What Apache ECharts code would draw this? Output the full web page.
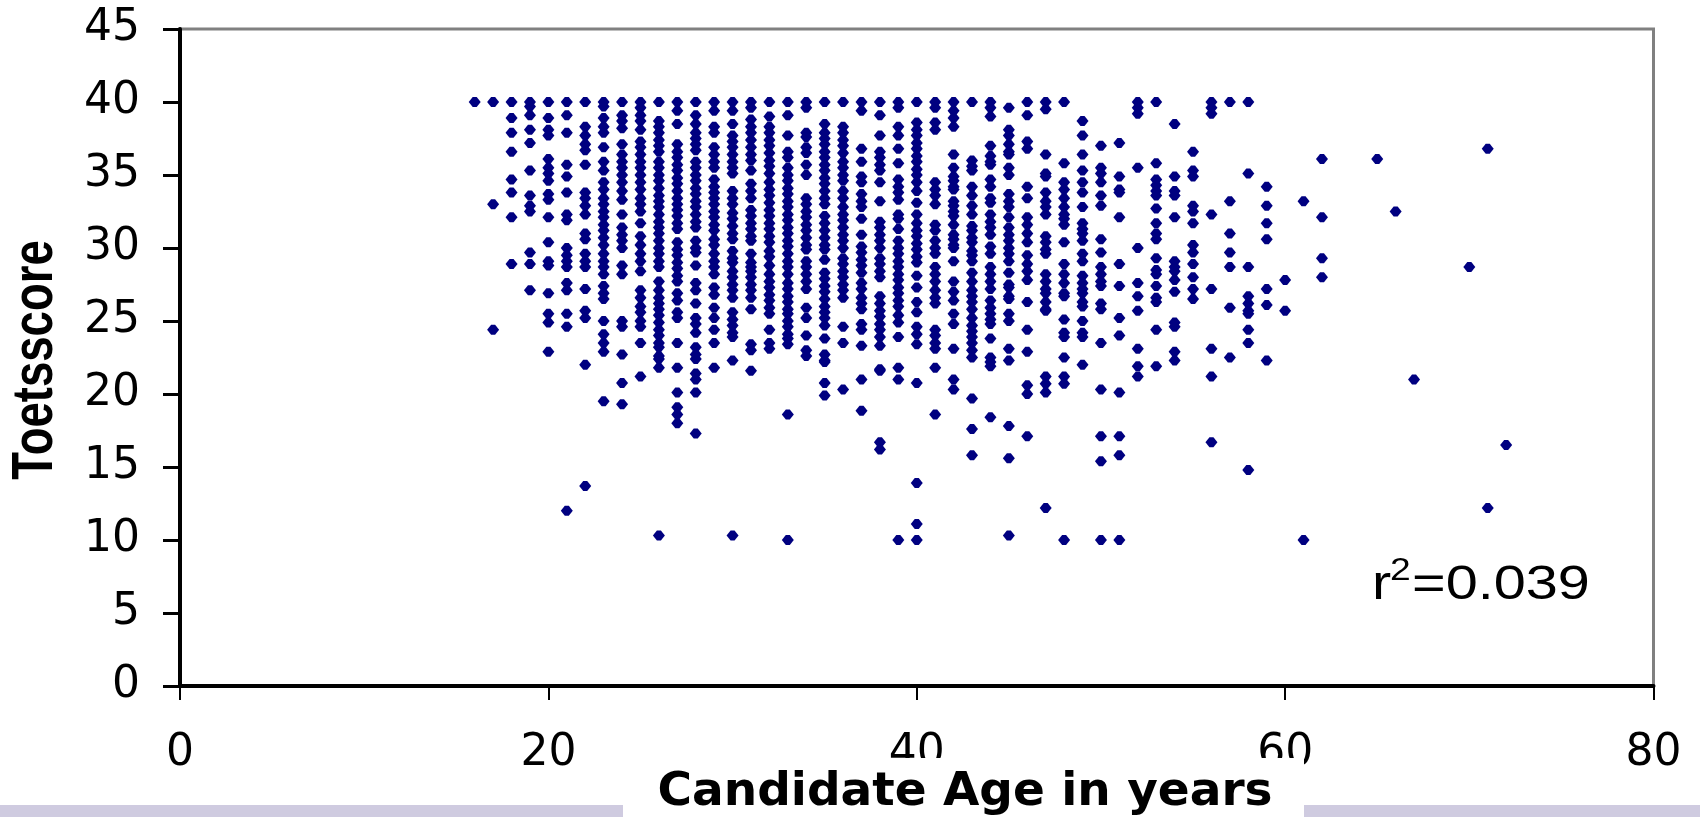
<!DOCTYPE html>
<html><head><meta charset="utf-8">
<script src="https://cdn.jsdelivr.net/npm/echarts@6/dist/echarts.min.js"></script>
<style>html,body{margin:0;padding:0;background:#fff}#c{width:1700px;height:817px}</style>
</head><body><div id="c"></div>
<script>
const xTicks = [0, 20, 40, 60, 80];
const yTicks = [0, 5, 10, 15, 20, 25, 30, 35, 40, 45];
const xTitle = 'Candidate Age in years';
const yTitle = 'Toetsscore';
const ages = [16,17,18,19,20,21,22,23,24,25,26,27,28,29,30,31,32,33,34,35,36,37,38,39,40,41,42,43,44,45,46,47,48,49,50,51,52,53,54,55,56,57,58,59,60,61,62,65,66,67,70,71,72];
const scoreRows = [
/*16*/[40],
/*17*/[40,33,24.4],
/*18*/[40,38.9,37.9,36.6,34.7,33.8,32.1,28.9],
/*19*/[40,39.7,39.1,38.1,37.2,35.3,33.6,32.9,32.5,29.7,28.9,27.1],
/*20*/[40,38.9,38.1,37.7,36.1,35.5,35.1,34.6,33.7,33.3,32.1,30.4,29.1,28.8,26.9,25.5,24.9,22.9],
/*21*/[40,39.1,37.9,35.7,34.9,33.8,32.3,31.9,30,29.5,29.1,28.7,27.6,27.1,25.5,24.6,12],
/*22*/[40,38.3,37.7,37.1,36.7,35.7,33.8,33.4,32.9,32.3,31,30.6,29.6,29.1,28.7,27.2,25.7,25.2,22,13.7],
/*23*/[40,39.7,38.9,38.3,37.9,36.9,35.9,35.3,34.5,34,33.4,33,32.5,32.1,31.6,31.2,30.7,30.2,29.6,29.1,28.7,28.2,27.4,26.9,26.5,25,24.1,23.5,22.9,19.5],
/*24*/[40,39.1,38.7,38.2,37.1,36.4,35.9,35.5,35,34.5,33.9,33.3,32.3,31.4,30.9,30.5,30,28.8,28.2,25,24.6,22.7,20.75,19.3],
/*25*/[40,39.6,39.1,38.7,38.1,37.3,36.9,36.4,35.9,35.5,35,34.5,34,33.4,33,32.5,31.7,30.8,30.2,29.6,29.1,28.4,27.1,26.6,26,25.6,25,24.6,23.5,21.2],
/*26*/[40,38.7,38.3,37.9,37.4,37,36.6,35.9,35.5,35,34.6,34.1,33.6,33.2,32.8,32.3,31.8,31.4,31,30.5,30,29.6,29.1,28.7,27.7,27.1,26.6,26.2,25.8,25.4,24.9,24.4,24,23.5,23.2,22.6,22.4,21.8,10.3],
/*27*/[40,39.4,38.5,37.1,36.6,36.2,35.7,35.3,34.8,34.4,33.9,33.4,33,32.6,32.2,31.7,31.3,30.4,29.9,29.5,29,28.6,28.1,27.7,26.9,26.4,25.6,25.2,23.5,21.8,20.1,19.1,18.6,18],
/*28*/[40,39.1,38.5,37.9,37.5,37.1,36.7,35.9,35.5,35,34.6,34.1,33.7,33.2,32.8,32.3,31.8,31.4,30.5,30,29.7,28.8,27.6,27.1,26.2,25.2,24.8,24.2,23.2,22.7,22.4,21.4,21,20.1,17.3],
/*29*/[40,39.4,38.3,37.9,36.9,36.4,35.9,35.5,34.7,34.2,33.8,33.4,33,32.5,32.1,31.6,31.2,30.6,30.2,29.6,29.1,28.7,28.2,27.3,26.8,25.9,25.2,24.4,23.5,21.8],
/*30*/[40,39.4,38.5,37.7,37.3,36.9,36.4,35.9,35.5,35.1,33.9,33.4,33,32.4,32,31.5,31,30.6,29.8,29.3,29,28.4,28,27.5,27.1,26.6,25.6,25.1,24.7,24.2,23.9,22.3,10.3],
/*31*/[40,39.6,38.8,38.3,37.9,37.4,36.9,36.4,36,35.3,34.4,33.9,33.4,32.6,32.2,31.7,31.3,30.8,30.5,29.6,29,28.7,28.4,28,27.5,27.1,26.6,25.8,23.4,23,21.6],
/*32*/[40,39,38.3,37.9,37.4,37,36.5,36,35.6,35.1,34.5,34,33.6,33.1,32.6,32.2,31.7,31.3,30.8,30.4,29.8,29.4,28.8,28.2,27.7,27.3,26.8,26.4,25.9,25.5,24.4,23.5,23.1],
/*33*/[40,39.1,37.7,36.6,36.2,35.5,35,34.6,34.1,33.7,33.2,32.8,32.3,31.9,31.4,31,30.5,30.1,29.6,29.1,28.7,28.2,27.6,27.2,26.7,26.3,25.8,25.5,25,24.6,24.1,23.8,23.4,18.6,10],
/*34*/[40,39.6,37.9,37.6,36.9,36.5,35.7,35,33.4,33,32.5,32.1,31.6,31.2,30.7,30.2,29.9,29.1,28.7,28.2,27.7,27.2,25.9,25.2,24,23,22.6],
/*35*/[40,38.5,37.9,37.5,37.1,36.6,36.2,35.7,35.3,34.8,34.4,33.9,33.4,33,32.2,31.7,31.2,30.7,30.2,29.9,29.2,28.3,27.9,27.4,27,26.5,26,25.6,25.2,24.7,23.8,22.7,22.3,22.2,20.75,19.9],
/*36*/[40,38.3,37.9,37.4,37,36.5,35.9,35.5,35,34.6,33.9,33.4,32.8,32.3,31.9,31.4,30.9,30.5,30,29.3,28.9,28.4,28,27.5,27.1,26.6,24.6,23.5,20.3],
/*37*/[40,39.4,36.8,35.9,34.9,34.5,33.7,33.2,32.8,32,30.9,30.1,29.7,29.2,28.8,28.3,27.6,27.2,26.6,26.2,25.8,24.8,24.4,23.3,21,18.85],
/*38*/[40,39.1,37.7,36.6,36.2,35.7,35.3,34.5,33.2,31.8,31.4,30.9,30.5,30,29.3,28.9,28.4,28,26.7,26.2,25.7,25.3,24.8,24.4,23.9,23.3,21.7,21.6,16.7,16.2],
/*39*/[40,39.6,38.3,37.7,36.8,35.8,34.7,34.2,33.8,33.3,32.3,32,31.3,30.5,30,29.6,29.1,28.7,28.2,27.8,27.3,26.9,26.4,26,25.4,24.9,23.9,21.8,21,10],
/*40*/[40,38.6,38.1,37.7,37.2,36.8,36.3,35.9,35.4,35,34.5,33.9,33.1,32.3,31.7,31.2,30.8,30.3,29.9,29.4,29,28.1,27.3,26.3,25.6,24.6,24.1,23.4,20.75,13.9,11.1,10],
/*41*/[40,39.6,38.6,38.1,34.5,34,33.6,33,31.6,31.2,30.5,30,29.6,28.7,28.2,27.7,27.1,26.6,26.2,24.4,24,23.5,23.1,21.8,18.6],
/*42*/[40,39.4,38.9,38.3,36.4,35.5,34.9,34.6,34.2,34,33.2,32.9,32.5,32.2,31.6,30.9,30.6,30.2,30,29.1,27.7,27,26.4,25.5,24.8,23.1,21,20.3],
/*43*/[40,36,35.6,35.3,34.2,33.6,32.9,32.3,31.5,31.2,30.7,30.4,29.8,29.5,29.1,28.3,27.7,27.1,26.7,26.3,25.8,25.2,24.7,24.3,23.9,23.5,23,22.5,19.7,17.6,15.8],
/*44*/[40,39.6,39,37,36.3,35.9,35.7,34.7,34.2,33.4,33.1,32.3,31.8,31.4,30.9,30.1,29.6,28.7,28.2,27.7,27.2,26.4,25.9,25.5,25.1,24.8,23.8,22.5,22.2,21.9,18.4],
/*45*/[39.6,38.1,37.7,37.1,36.6,36.4,35.5,35,33.7,33.2,32.8,32.1,31.4,30.9,30.5,30,29.6,29.1,28.3,27.5,27.3,26.7,26.5,25.5,25,23.1,22.3,17.8,15.6,10.3],
/*46*/[40,39.1,37.3,36.8,34.2,33.4,32.1,31.6,31,30.4,29.5,28.9,28.4,27.8,26.3,24.4,22.9,20.6,20,17.1],
/*47*/[40,39.5,36.4,35.1,34.9,33.8,33.2,32.8,32.3,30.8,30.4,29.9,29.6,28.2,27.7,27.2,26.9,26.3,25.8,25.7,21.2,20.7,20.1,12.2],
/*48*/[40,35.8,34.5,34,33.4,32.8,32.3,32,31.6,30.4,28.9,28.2,27.6,26.9,26.7,25.1,24.2,23.9,22.5,21.2,20.7,10],
/*49*/[38.7,37.7,36.4,35.3,34.5,33.8,32.8,31.7,31.3,31,30.5,29.6,29.1,28.1,27.6,27.2,26.9,26.3,26,25,24.2,23.9,22],
/*50*/[37,35.5,35.1,34.5,33.6,32.9,30.6,29.7,28.7,28.2,27.7,27.4,26.2,25.8,23.5,20.3,17.1,15.4,10],
/*51*/[37.2,34.9,34,33.8,32.1,28.9,27.4,25.2,24,20.1,17.1,15.8,10],
/*52*/[40,39.6,39.2,35.5,30,27.6,26.7,25.7,23.1,21.9,21.2],
/*53*/[40,35.8,34.7,34.3,33.9,33.6,32.7,31.7,31,30.6,29.3,28.5,28.2,27.4,26.6,26.3,24.4,21.9],
/*54*/[38.5,34.9,33.9,33.6,32.1,29.1,28.7,28.4,27.8,27,24.9,24.6,22.9,22.3],
/*55*/[36.6,35.3,34.9,32.9,32.5,31.7,30.2,29.7,28.9,28,27.2,26.5],
/*56*/[40,39.6,39.2,32.3,27.2,23.1,21.2,16.7],
/*57*/[40,33.2,31,29.7,28.7,25.9,22.5],
/*58*/[40,35.1,28.7,26.7,26.2,25.7,25.5,24.4,23.5,14.8],
/*59*/[34.2,32.9,31.7,30.6,27.2,26.1,22.3],
/*60*/[27.8,25.7],
/*61*/[33.2,10],
/*62*/[36.1,32.1,29.3,28],
/*65*/[36.1],
/*66*/[32.5],
/*67*/[21],
/*70*/[28.7],
/*71*/[36.8,12.2],
/*72*/[16.5]
];
const points = [];
ages.forEach((a, i) => scoreRows[i].forEach(s => points.push([a, s])));

const chart = echarts.init(document.getElementById('c'), null, {renderer: 'canvas'});
const band = '#cfcbe0';
chart.setOption({
  animation: false,
  backgroundColor: '#ffffff',
  grid: {left: 180, right: 46.5, top: 29, bottom: 131, outerBoundsMode: 'none', show: true, borderColor: '#808080', borderWidth: 3, backgroundColor: 'transparent'},
  xAxis: {
    type: 'value', min: 0, max: 80, interval: 20,
    axisLine: {show: true, onZero: false, lineStyle: {color: '#000', width: 4}},
    axisTick: {show: true, length: 14, lineStyle: {color: '#000', width: 2}},
    splitLine: {show: false},
    axisLabel: {show: true, margin: 46, fontFamily: 'DejaVu Sans', fontSize: 44, color: '#000',
      showMinLabel: true, showMaxLabel: true, formatter: v => xTicks.includes(v) ? String(v) : ''}
  },
  yAxis: {
    type: 'value', min: 0, max: 45, interval: 5,
    axisLine: {show: true, onZero: false, lineStyle: {color: '#000', width: 4}},
    axisTick: {show: true, length: 17, lineStyle: {color: '#000', width: 3}},
    splitLine: {show: false},
    axisLabel: {show: true, margin: 40, padding: [4, 0, 0, 0], fontFamily: 'DejaVu Sans', fontSize: 44, color: '#000',
      formatter: v => yTicks.includes(v) ? String(v) : ''}
  },
  series: [{
    type: 'scatter', data: points, symbol: 'path://M4,0 L8,0 L12,4.5 L8,9 L4,9 L0,4.5 Z', symbolSize: [12, 10],
    itemStyle: {color: '#000080', opacity: 1}, z: 5, silent: true
  }],
  graphic: [
    {type: 'rect', z: 50, shape: {x: 0, y: 805, width: 623, height: 12}, style: {fill: band}},
    {type: 'rect', z: 50, shape: {x: 1304, y: 805, width: 396, height: 12}, style: {fill: band}},
    {type: 'rect', z: 50, shape: {x: 623, y: 758, width: 681, height: 59}, style: {fill: '#fff'}},
    {type: 'text', z: 51, x: 965, y: 793, style: {text: xTitle, font: 'bold 47px "DejaVu Sans"', fill: '#000', textAlign: 'center', textVerticalAlign: 'middle'}},
    {type: 'text', z: 51, x: 36, y: 360, rotation: Math.PI / 2, scaleX: 0.785, style: {text: yTitle, font: 'bold 58px "Liberation Sans"', fill: '#000', textAlign: 'center', textVerticalAlign: 'middle'}},
    {type: 'text', z: 51, x: 1372, y: 586, scaleX: 1.2, style: {text: 'r', font: '48px "Liberation Sans"', fill: '#000', textAlign: 'left', textVerticalAlign: 'middle'}},
    {type: 'text', z: 51, x: 1390, y: 571, scaleX: 1.2, style: {text: '2', font: '31px "Liberation Sans"', fill: '#000', textAlign: 'left', textVerticalAlign: 'middle'}},
    {type: 'text', z: 51, x: 1412, y: 586, scaleX: 1.2, style: {text: '=0.039', font: '48px "Liberation Sans"', fill: '#000', textAlign: 'left', textVerticalAlign: 'middle'}}
  ]
});
</script></body></html>
